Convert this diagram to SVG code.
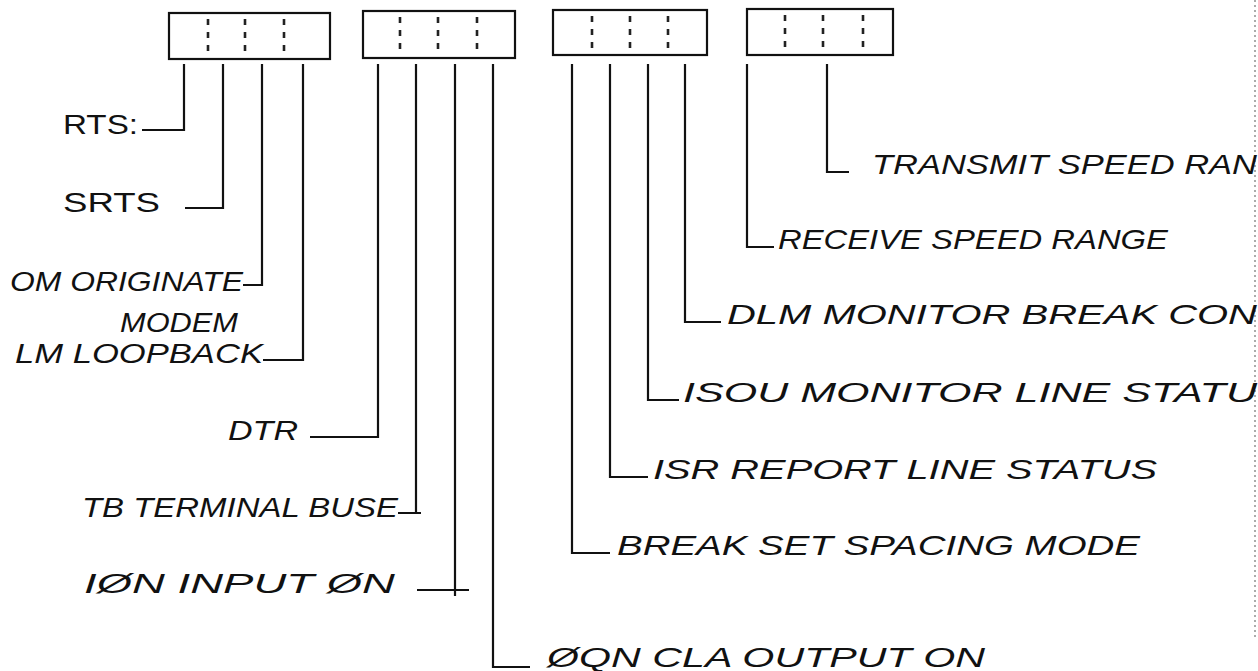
<svg xmlns="http://www.w3.org/2000/svg" width="1258" height="671" viewBox="0 0 1258 671">
<style>
.box{fill:none;stroke:#111;stroke-width:2.2}
.dv{stroke:#222;stroke-width:2.6;stroke-dasharray:6 7}
.ln{fill:none;stroke:#111;stroke-width:2.2;stroke-linejoin:miter}
.t{font-family:"Liberation Sans",Arial,sans-serif;fill:#111;font-size:28px}
.i{font-style:italic}
.edge{stroke:#888;stroke-width:1.4;stroke-dasharray:2 3}
</style>
<rect width="1258" height="671" fill="#fff"/>
<g id="page-edge"><line class="edge" x1="1255" y1="0" x2="1255" y2="640"/></g>

<g id="register-1"><rect class="box" x="169" y="13" width="161" height="46"/>
<line class="dv" x1="208" y1="19" x2="208" y2="55"/><line class="dv" x1="245" y1="19" x2="245" y2="55"/><line class="dv" x1="284" y1="19" x2="284" y2="55"/></g>
<g id="register-2"><rect class="box" x="363" y="11" width="152" height="47"/>
<line class="dv" x1="400" y1="17" x2="400" y2="53"/><line class="dv" x1="438" y1="17" x2="438" y2="53"/><line class="dv" x1="477" y1="17" x2="477" y2="53"/></g>
<g id="register-3"><rect class="box" x="553" y="10" width="154" height="45"/>
<line class="dv" x1="592" y1="16" x2="592" y2="52"/><line class="dv" x1="630" y1="16" x2="630" y2="52"/><line class="dv" x1="668" y1="16" x2="668" y2="52"/></g>
<g id="register-4"><rect class="box" x="747" y="9" width="146" height="46"/>
<line class="dv" x1="785" y1="15" x2="785" y2="51"/><line class="dv" x1="823" y1="15" x2="823" y2="51"/><line class="dv" x1="863" y1="15" x2="863" y2="51"/></g>

<g id="connectors">
<path class="ln" d="M184 64 V130 H142"/>
<path class="ln" d="M223 64 V208 H185"/>
<path class="ln" d="M262 64 V285 H243"/>
<path class="ln" d="M303 64 V360 H263"/>
<path class="ln" d="M378 64 V437 H310"/>
<path class="ln" d="M416 64 V513 H398 M416 513 H421"/>
<path class="ln" d="M455 64 V596 M417 590 H469"/>
<path class="ln" d="M493 64 V667 H530"/>
<path class="ln" d="M572 64 V553 H610"/>
<path class="ln" d="M610 64 V477 H648"/>
<path class="ln" d="M648 64 V400 H679"/>
<path class="ln" d="M685 64 V322 H721"/>
<path class="ln" d="M747 64 V247 H774"/>
<path class="ln" d="M827 64 V172 H849"/>
</g>

<g id="rts"><text class="t" x="63" y="134" font-size="34" textLength="75" lengthAdjust="spacingAndGlyphs">RTS:</text></g>
<g id="srts"><text class="t" x="63" y="212" font-size="32" textLength="97" lengthAdjust="spacingAndGlyphs">SRTS</text></g>
<g id="om"><text class="t i" x="10" y="291" font-size="30" textLength="233" lengthAdjust="spacingAndGlyphs">OM ORIGINATE</text></g>
<g id="lm"><text class="t i" x="120" y="332" font-size="21" textLength="118" lengthAdjust="spacingAndGlyphs">MODEM</text>
<text class="t i" x="15" y="363" font-size="30" textLength="248" lengthAdjust="spacingAndGlyphs">LM LOOPBACK</text></g>
<g id="dtr"><text class="t i" x="228" y="440" font-size="30" textLength="70" lengthAdjust="spacingAndGlyphs">DTR</text></g>
<g id="tb"><text class="t i" x="82" y="517" font-size="28" textLength="316" lengthAdjust="spacingAndGlyphs">TB TERMINAL BUSE</text></g>
<g id="ion"><text class="t i" x="84" y="593" font-size="28" textLength="311" lengthAdjust="spacingAndGlyphs">IØN INPUT ØN</text></g>
<g id="oon"><text class="t i" x="547" y="667" font-size="30" textLength="438" lengthAdjust="spacingAndGlyphs">ØQN CLA OUTPUT ON</text></g>

<g id="transmit"><text class="t i" x="872" y="174" textLength="385" lengthAdjust="spacingAndGlyphs">TRANSMIT SPEED RAN</text></g>
<g id="receive"><text class="t i" x="778" y="249" textLength="390" lengthAdjust="spacingAndGlyphs">RECEIVE SPEED RANGE</text></g>
<g id="dlm"><text class="t i" x="727" y="324" textLength="530" lengthAdjust="spacingAndGlyphs">DLM MONITOR BREAK CON</text></g>
<g id="isou"><text class="t i" x="683" y="402" textLength="574" lengthAdjust="spacingAndGlyphs">ISOU MONITOR LINE STATU</text></g>
<g id="isr"><text class="t i" x="653" y="479" textLength="504" lengthAdjust="spacingAndGlyphs">ISR REPORT LINE STATUS</text></g>
<g id="break"><text class="t i" x="617" y="555" textLength="523" lengthAdjust="spacingAndGlyphs">BREAK SET SPACING MODE</text></g>
</svg>
